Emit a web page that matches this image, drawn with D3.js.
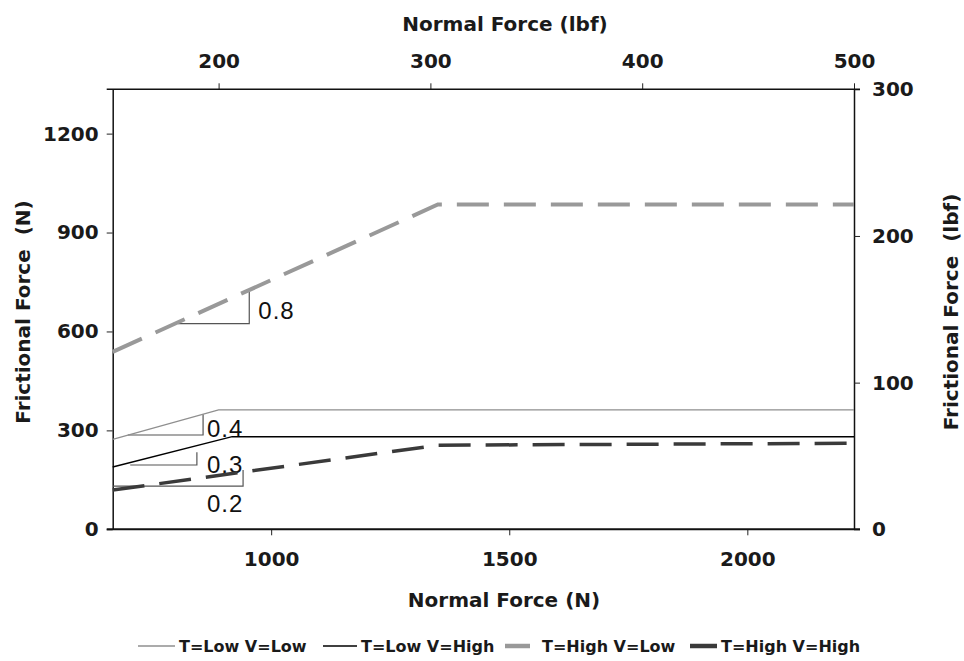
<!DOCTYPE html>
<html>
<head>
<meta charset="utf-8">
<script src="https://cdn.jsdelivr.net/npm/d3@7"></script>
<style>
  body { margin: 0; background: #fff; }
  svg { display: block; }
  .tick text { font-family: "DejaVu Sans", sans-serif; font-weight: bold; font-size: 20px; fill: #1a1a1a; }
  .title { font-family: "DejaVu Sans", sans-serif; font-weight: bold; font-size: 20px; fill: #1a1a1a; }
  .legend text { font-family: "DejaVu Sans", sans-serif; font-weight: bold; font-size: 16px; fill: #1a1a1a; }
  .slope { font-family: "Liberation Sans", Arial, sans-serif; font-size: 24px; fill: #111; letter-spacing: 1px; }
</style>
</head>
<body>
<svg id="chart" width="964" height="661"></svg>
<script>
/******************************************************************************/
// data (newtons)

var LBF = 4.448;

var seriesNames = ['T=Low V=Low', 'T=Low V=High', 'T=High V=Low', 'T=High V=High'];

var lowLow   = [[667.2, 273], [889.6, 362], [2224, 362]];
var lowHigh  = [[667.2, 189], [918, 281],   [2224, 281]];
var highLow  = [[667.2, 538], [1350, 985],  [2224, 985]];
var highHigh = [[667.2, 119], [1350, 255],  [2224, 261]];

var seriesData = [lowLow, lowHigh, highLow, highHigh];

// slope triangles: x1, x2, y1 (base), y2 (top), label, label x, label y
var slopeLabels = ['0.8', '0.4', '0.3', '0.2'];
var slopeX1 = [804, 699, 704, 668];
var slopeX2 = [954, 857, 844, 941];
var slopeY1 = [624, 286, 195, 131];
var slopeY2 = [722, 349, 234, 180];
var slopeLabelX = [973, 865, 865, 865];
var slopeLabelY = [637, 280, 170, 52];

var bottomTicks = [1000, 1500, 2000];
var topTicks = [200, 300, 400, 500];
var leftTicks = [0, 300, 600, 900, 1200];
var rightTicks = [0, 100, 200, 300];

/******************************************************************************/

var svg = d3.select('#chart');

var pLeft = 112.7, pRight = 854, pTop = 89.3, pBottom = 529.3;

var x = d3.scaleLinear().domain([150 * LBF, 500 * LBF]).range([pLeft, pRight]);
var xLbf = d3.scaleLinear().domain([150, 500]).range([pLeft, pRight]);
var y = d3.scaleLinear().domain([0, 300 * LBF]).range([pBottom, pTop]);
var yLbf = d3.scaleLinear().domain([0, 300]).range([pBottom, pTop]);

var styles = [
  { stroke: '#8f8f8f', width: 1.3, dash: null },
  { stroke: '#000000', width: 1.5, dash: null },
  { stroke: '#999999', width: 4, dash: '32,15' },
  { stroke: '#3a3a3a', width: 3.5, dash: '32,15' }
];

// axes
var gLeft = svg.append('g').attr('transform', 'translate(' + pLeft + ',0)')
  .call(d3.axisLeft(y).tickValues(leftTicks).tickSize(6).tickSizeOuter(0).tickPadding(8).tickFormat(d3.format('d')));
var gRight = svg.append('g').attr('transform', 'translate(' + pRight + ',0)')
  .call(d3.axisRight(yLbf).tickValues(rightTicks).tickSize(6).tickSizeOuter(0).tickPadding(12).tickFormat(d3.format('d')));
var gBottom = svg.append('g').attr('transform', 'translate(0,' + pBottom + ')')
  .call(d3.axisBottom(x).tickValues(bottomTicks).tickSize(6).tickSizeOuter(0).tickPadding(17).tickFormat(d3.format('d')));
var gTop = svg.append('g').attr('transform', 'translate(0,' + pTop + ')')
  .call(d3.axisTop(xLbf).tickValues(topTicks).tickSize(6).tickSizeOuter(0).tickPadding(15).tickFormat(d3.format('d')));

[gLeft, gRight, gBottom, gTop].forEach(function(g){
  g.selectAll('line').attr('stroke', '#222').attr('stroke-width', 1);
  g.select('.domain').attr('stroke', '#111').attr('stroke-width', 1.5);
});
gBottom.select('.domain').remove();
gTop.select('.domain').remove();

// frame lines top & bottom (slight overhang like the original)
svg.append('line').attr('x1', pLeft - 6).attr('x2', pRight + 6).attr('y1', pTop).attr('y2', pTop)
  .attr('stroke', '#111').attr('stroke-width', 1.5);
svg.append('line').attr('x1', pLeft - 6).attr('x2', pRight + 6).attr('y1', pBottom).attr('y2', pBottom)
  .attr('stroke', '#111').attr('stroke-width', 2);

// slope triangles
var tri = svg.append('g');
for(var i = 0; i < slopeLabels.length; i++){
  tri.append('path')
    .attr('d', 'M' + x(slopeX1[i]) + ',' + y(slopeY1[i]) + 'H' + x(slopeX2[i]) + 'V' + y(slopeY2[i]))
    .attr('fill', 'none').attr('stroke', '#555').attr('stroke-width', 1.2);
  tri.append('text').attr('class', 'slope')
    .attr('x', x(slopeLabelX[i])).attr('y', y(slopeLabelY[i]))
    .text(slopeLabels[i]);
}

// series lines
var line = d3.line().x(function(d){ return x(d[0]); }).y(function(d){ return y(d[1]); });
for(var s = 0; s < seriesData.length; s++){
  svg.append('path').datum(seriesData[s])
    .attr('d', line)
    .attr('fill', 'none')
    .attr('stroke', styles[s].stroke)
    .attr('stroke-width', styles[s].width)
    .attr('stroke-dasharray', styles[s].dash);
}

// titles
svg.append('text').attr('class', 'title').attr('x', 505).attr('y', 31).attr('text-anchor', 'middle').text('Normal Force (lbf)');
svg.append('text').attr('class', 'title').attr('x', 504).attr('y', 607).attr('text-anchor', 'middle').text('Normal Force (N)');
svg.append('text').attr('class', 'title').attr('text-anchor', 'middle')
  .attr('transform', 'translate(30,312) rotate(-90)').text('Frictional Force\u00a0 (N)');
svg.append('text').attr('class', 'title').attr('text-anchor', 'middle')
  .attr('transform', 'translate(958,312) rotate(-90)').text('Frictional Force\u00a0 (lbf)');

// legend
var legendX = [138, 323, 505, 690];
var legendLen = [37, 34, 25, 27];
var legend = svg.append('g').attr('class', 'legend');
for(var k = 0; k < seriesNames.length; k++){
  legend.append('line')
    .attr('x1', legendX[k]).attr('x2', legendX[k] + legendLen[k])
    .attr('y1', 646).attr('y2', 646)
    .attr('stroke', styles[k].stroke)
    .attr('stroke-width', k < 2 ? styles[k].width : 4.5);
  legend.append('text')
    .attr('x', legendX[k] + legendLen[k] + (k == 2 ? 12 : 4)).attr('y', 651.5)
    .text(seriesNames[k]);
}
</script>
</body>
</html>
